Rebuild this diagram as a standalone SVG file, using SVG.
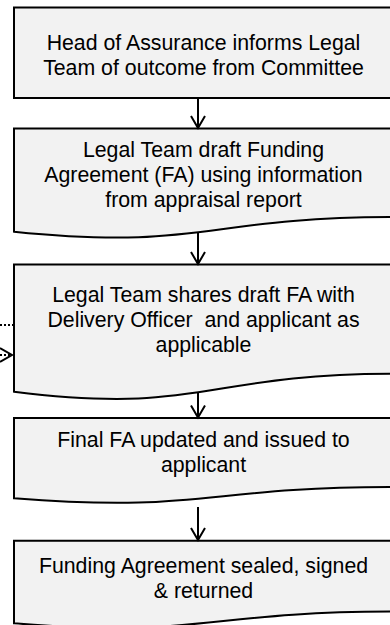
<svg xmlns="http://www.w3.org/2000/svg" width="390" height="625" viewBox="0 0 390 625">
<style>
.box{fill:#f2f2f2;stroke:#000;stroke-width:2;stroke-linejoin:miter}
.lbl{font-family:"Liberation Sans",Arial,sans-serif;font-size:21.3px;fill:#000;text-anchor:middle;white-space:pre}
.conn{fill:none;stroke:#000;stroke-width:2}
.dot{stroke-dasharray:2,2}
</style>
<defs>
<marker id="arr" markerUnits="userSpaceOnUse" markerWidth="30" markerHeight="30" refX="0" refY="0" orient="auto" viewBox="-15 -15 30 30" overflow="visible">
<path d="M-12,-7 L0,0 L-12,7" fill="none" stroke="#000" stroke-width="2" stroke-dasharray="none"/>
</marker>
</defs>
<rect width="390" height="625" fill="#fff"/>
<g id="n1">
<rect class="box" x="14" y="7.5" width="379" height="90.5"/>
<text class="lbl" x="203.5" y="50">Head of Assurance informs Legal</text>
<text class="lbl" x="203.5" y="75">Team of outcome from Committee</text>
</g>
<g id="n2">
<path class="box" d="M14,128.5 H393 V217.1 C203.5,217.1 203.5,250.9 14,231.7 Z"/>
<text class="lbl" x="203.5" y="156.7">Legal Team draft Funding</text>
<text class="lbl" x="203.5" y="181.7">Agreement (FA) using information</text>
<text class="lbl" x="203.5" y="206.7">from appraisal report</text>
</g>
<g id="n3">
<path class="box" d="M14,264.5 H393 V373.7 C203.5,373.7 203.5,415.3 14,391.7 Z"/>
<text class="lbl" x="203.5" y="302">Legal Team shares draft FA with</text>
<text class="lbl" x="203.5" y="327" xml:space="preserve">Delivery Officer  and applicant as</text>
<text class="lbl" x="203.5" y="352">applicable</text>
</g>
<g id="n4">
<path class="box" d="M14,418 H393 V487 C203.5,487 203.5,513.2 14,498.3 Z"/>
<text class="lbl" x="203.5" y="447">Final FA updated and issued to</text>
<text class="lbl" x="203.5" y="472">applicant</text>
</g>
<g id="n5">
<path class="box" d="M14,540.7 H393 V611.6 C203.5,611.6 203.5,638.6 14,623.3 Z"/>
<text class="lbl" x="203.5" y="573">Funding Agreement sealed, signed</text>
<text class="lbl" x="203.5" y="598">&amp; returned</text>
</g>
<g id="connectors">
<line class="conn" x1="198" y1="98" x2="198" y2="128" marker-end="url(#arr)"/>
<line class="conn" x1="198" y1="233" x2="198" y2="264" marker-end="url(#arr)"/>
<line class="conn" x1="198" y1="393" x2="198" y2="417.5" marker-end="url(#arr)"/>
<line class="conn" x1="198" y1="507" x2="198" y2="540" marker-end="url(#arr)"/>
<line class="conn dot" x1="0" y1="325" x2="13" y2="325"/>
<line class="conn dot" x1="0" y1="355" x2="12" y2="355" marker-end="url(#arr)"/>
</g>
</svg>
